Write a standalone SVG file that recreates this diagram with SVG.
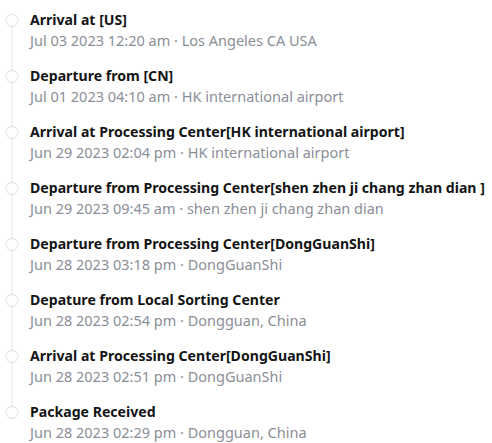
<svg xmlns="http://www.w3.org/2000/svg" width="492" height="443" viewBox="0 0 492 443">
<style>
.t{font-family:"Noto Sans","Open Sans",sans-serif;font-size:14.1px;font-weight:bold;fill:#141414}
.s{font-family:"Noto Sans","Open Sans",sans-serif;font-size:14.5px;fill:#8a8e98}
.c{fill:#fff;stroke:#dedede;stroke-width:1}
.l{stroke:#e8e8e8;stroke-width:1}
</style>
<rect width="492" height="443" fill="#fff"/>
<g id="connectors">
<line class="l" x1="12" y1="26.5" x2="12" y2="70.5"/>
<line class="l" x1="12" y1="82.5" x2="12" y2="126.5"/>
<line class="l" x1="12" y1="138.5" x2="12" y2="182.5"/>
<line class="l" x1="12" y1="194.5" x2="12" y2="238.5"/>
<line class="l" x1="12" y1="250.5" x2="12" y2="294.5"/>
<line class="l" x1="12" y1="306.5" x2="12" y2="350.5"/>
<line class="l" x1="12" y1="362.5" x2="12" y2="406.5"/>
</g>
<g id="n1"><circle class="c" cx="12" cy="20.5" r="6"/><text class="t" x="30" y="25">Arrival at [US]</text><text class="s" x="30" y="46">Jul 03 2023 12:20 am · Los Angeles CA USA</text></g>
<g id="n2"><circle class="c" cx="12" cy="76.5" r="6"/><text class="t" x="30" y="81">Departure from [CN]</text><text class="s" x="30" y="102">Jul 01 2023 04:10 am · HK international airport</text></g>
<g id="n3"><circle class="c" cx="12" cy="132.5" r="6"/><text class="t" x="30" y="137">Arrival at Processing Center[HK international airport]</text><text class="s" x="30" y="158">Jun 29 2023 02:04 pm · HK international airport</text></g>
<g id="n4"><circle class="c" cx="12" cy="188.5" r="6"/><text class="t" x="30" y="193">Departure from Processing Center[shen zhen ji chang zhan dian ]</text><text class="s" x="30" y="214">Jun 29 2023 09:45 am · shen zhen ji chang zhan dian</text></g>
<g id="n5"><circle class="c" cx="12" cy="244.5" r="6"/><text class="t" x="30" y="249">Departure from Processing Center[DongGuanShi]</text><text class="s" x="30" y="270">Jun 28 2023 03:18 pm · DongGuanShi</text></g>
<g id="n6"><circle class="c" cx="12" cy="300.5" r="6"/><text class="t" x="30" y="305">Depature from Local Sorting Center</text><text class="s" x="30" y="326">Jun 28 2023 02:54 pm · Dongguan, China</text></g>
<g id="n7"><circle class="c" cx="12" cy="356.5" r="6"/><text class="t" x="30" y="361">Arrival at Processing Center[DongGuanShi]</text><text class="s" x="30" y="382">Jun 28 2023 02:51 pm · DongGuanShi</text></g>
<g id="n8"><circle class="c" cx="12" cy="412.5" r="6"/><text class="t" x="30" y="417">Package Received</text><text class="s" x="30" y="438">Jun 28 2023 02:29 pm · Dongguan, China</text></g>
</svg>
